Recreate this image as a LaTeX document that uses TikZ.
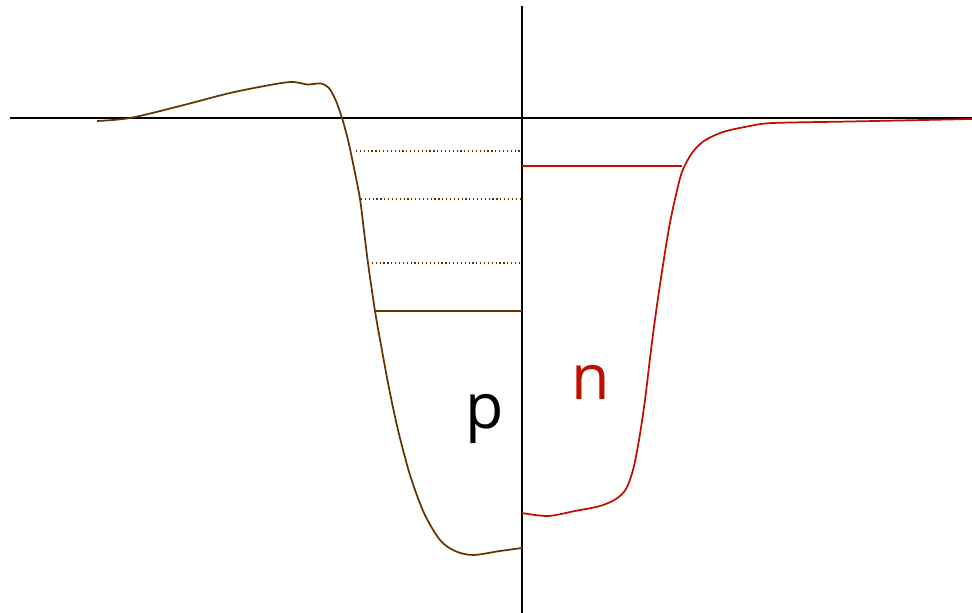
\documentclass[tikz,border=0pt]{standalone}
\usepackage{fontspec}
\setmainfont{Open Sans}
\definecolor{pbrown}{RGB}{102,51,0}
\definecolor{nred}{RGB}{190,16,0}
\begin{document}
\begin{tikzpicture}[x=0.75pt,y=-0.75pt,
  axis/.style={black,line width=1.4pt},
  pcurve/.style={pbrown,line width=1.3pt},
  ncurve/.style={nred,line width=1.3pt},
  plevel/.style={pbrown,line width=0.9pt,dotted},
  lbl/.style={font=\fontsize{47}{50}\selectfont,inner sep=0pt}]
\useasboundingbox (0,0) rectangle (972,613);
% axes
\coordinate (hl) at (10,118);
\coordinate (hr) at (972,118);
\coordinate (vt) at (522,6);
\coordinate (vb) at (522,613);
\draw[axis] (hl) -- (hr);
\draw[axis] (vt) -- (vb);
% p curve
\draw[pcurve] plot[smooth,tension=0.5] coordinates {
 (97,121) (130,118) (180,106) (230,93) (270,85) (290,82) (300,83) (307,84.5) (314,84) (321,83.5) (329,88) (336,101) (342,118) (348,140) (354,168) (360,199) (364,231) (368,263) (375,311) (381,345) (389,388) (398,430) (410,475) (424,513) (440,540) (455,551) (473,555) (500,551) (522,548)};
% n curve
\draw[ncurve] plot[smooth,tension=0.5] coordinates {
 (522,513) (548,516) (575,511) (600,506) (616,499) (626,489) (633,470) (639,440) (645,400) (651,350) (657,305) (663,265) (669,228) (675,199) (682,172) (692,153) (704,141) (723,132) (750,126) (773,123) (850,121.5) (972,119)};
% levels
\coordinate (p1a) at (356,151); \coordinate (p1b) at (522,151);
\coordinate (p2a) at (361,199); \coordinate (p2b) at (522,199);
\coordinate (p3a) at (368,263); \coordinate (p3b) at (522,263);
\coordinate (p4a) at (375,311); \coordinate (p4b) at (522,311);
\coordinate (n1a) at (522,166); \coordinate (n1b) at (682,166);
\draw[plevel] (p1a) -- (p1b);
\draw[plevel] (p2a) -- (p2b);
\draw[plevel] (p3a) -- (p3b);
\draw[pbrown,line width=1.3pt] (p4a) -- (p4b);
\draw[nred,line width=1.3pt] (n1a) -- (n1b);
% labels
\node[lbl,anchor=base] (plabel) at (485,428) {p};
\node[lbl,anchor=base,text=nred] (nlabel) at (591,399) {n};
\end{tikzpicture}
\end{document}
